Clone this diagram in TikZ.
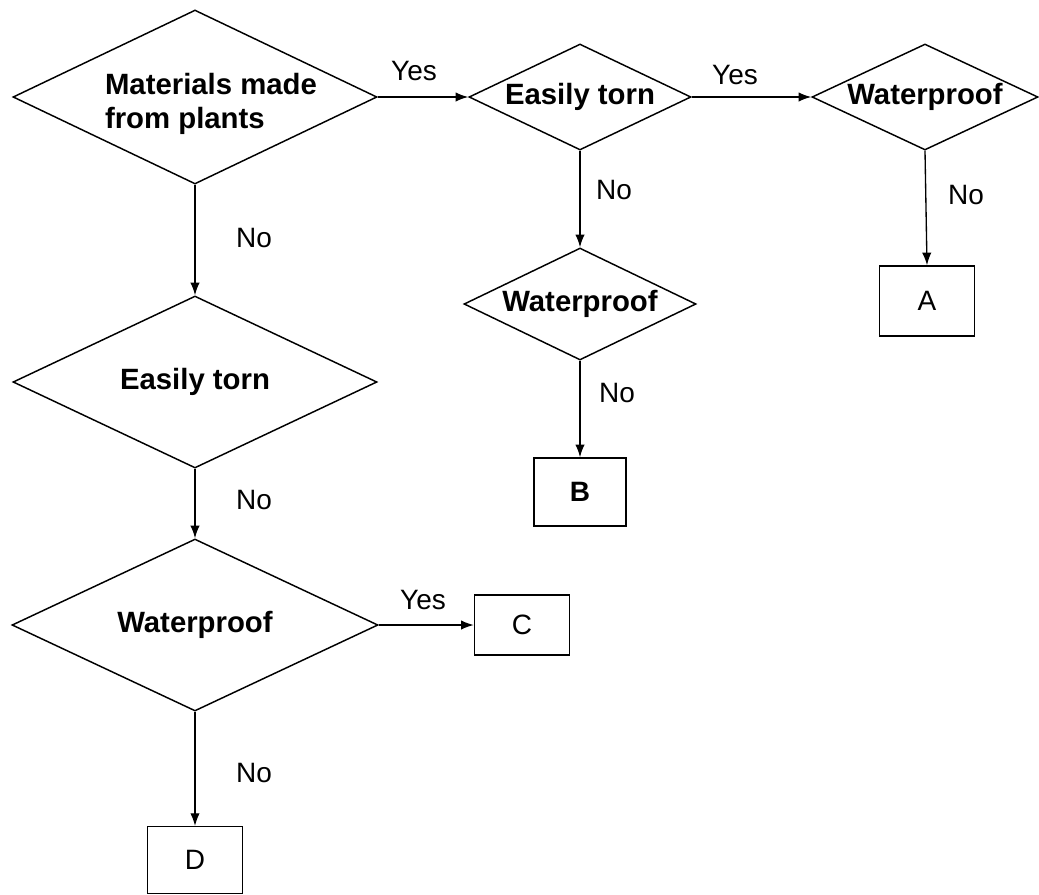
\documentclass[tikz,border=0pt]{standalone}
\usepackage{fontspec}
\setmainfont{Liberation Sans}
\usetikzlibrary{shapes.geometric,arrows.meta}
\begin{document}
\begin{tikzpicture}[x=0.75pt,y=-0.75pt,
  dec/.style={draw, diamond, shape aspect=2.1, inner sep=0pt, line width=1.1pt, font=\fontsize{22}{26}\selectfont\bfseries},
  dectext/.style={inner sep=0pt, align=left, font=\fontsize{22}{26}\selectfont\bfseries},
  res/.style={draw, rectangle, inner sep=0pt, line width=1.1pt, font=\fontsize{21}{25}\selectfont},
  arr/.style={-{Latex[length=9.5pt,width=7pt]}, line width=1pt},
  lab/.style={font=\fontsize{21}{25}\selectfont, inner sep=0pt}]
\useasboundingbox (0,0) rectangle (1039,894);
% decisions
\node[dec, minimum width=273pt, minimum height=130.5pt] (d1) at (195,97) {};
\node[dectext] (d1t) at (211,104) {Materials made\\from plants};
\node[dec, minimum width=166.5pt, minimum height=79.5pt] (d2) at (580,97) {Easily torn};
\node[dec, minimum width=169.5pt, minimum height=79.5pt] (d3) at (925,97) {Waterproof};
\node[dec, minimum width=174pt, minimum height=84pt] (d4) at (580,304) {Waterproof};
\node[dec, minimum width=273pt, minimum height=129pt] (d5) at (195,382) {Easily torn};
\node[dec, minimum width=274.5pt, minimum height=129pt] (d6) at (195,625) {Waterproof};
% results
\node[res, minimum width=71.25pt, minimum height=52.5pt] (ra) at (927,301) {A};
\node[res, minimum width=69pt, minimum height=51pt, font=\fontsize{21}{25}\selectfont\bfseries] (rb) at (580,492) {B};
\node[res, minimum width=71.25pt, minimum height=45pt] (rc) at (522,625) {C};
\node[res, minimum width=71.25pt, minimum height=50pt] (rd) at (195,860) {D};
% connectors
\draw[arr] (d1.east) -- (d2.west);
\draw[arr] (d2.east) -- (d3.west);
\draw[arr] (d1.south) -- (d5.north);
\draw[arr] (d5.south) -- (d6.north);
\draw[arr] (d6.south) -- (rd.north);
\draw[arr] (d6.east) -- (rc.west);
\draw[arr] (d2.south) -- (d4.north);
\draw[arr] (d4.south) -- (rb.north);
\draw[arr] (d3.south) -- (ra.north);
% labels
\node[lab] (y1) at (414,71) {Yes};
\node[lab] (y2) at (735,75) {Yes};
\node[lab] (y3) at (423,600) {Yes};
\node[lab] (n1) at (254,238) {No};
\node[lab] (n2) at (614,190) {No};
\node[lab] (n3) at (966,195) {No};
\node[lab] (n4) at (617,393) {No};
\node[lab] (n5) at (254,500) {No};
\node[lab] (n6) at (254,773) {No};
\end{tikzpicture}
\end{document}
